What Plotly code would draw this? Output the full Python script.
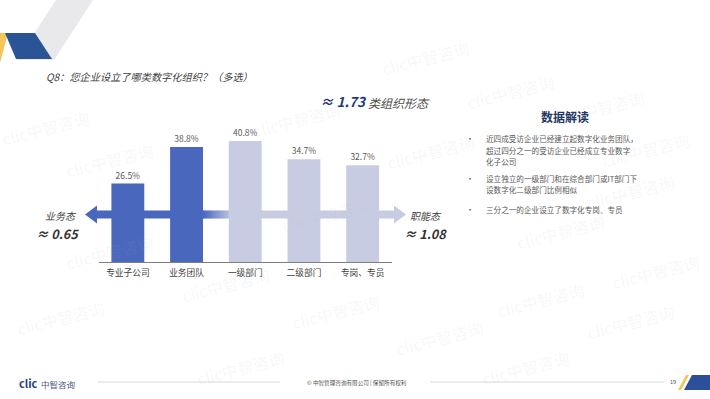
import plotly.graph_objects as go

W, H = 710, 399

categories = ["专业子公司", "业务团队", "一级部门", "二级部门", "专岗、专员"]
values = [26.5, 38.8, 40.8, 34.7, 32.7]
value_labels = ["26.5%", "38.8%", "40.8%", "34.7%", "32.7%"]
groups = ["业务态", "业务态", "职能态", "职能态", "职能态"]

title_text = "Q8：您企业设立了哪类数字化组织？（多选）"
total_text = "≈ 1.73"
total_suffix = "类组织形态"
left_label, left_value = "业务态", "≈ 0.65"
right_label, right_value = "职能态", "≈ 1.08"
panel_title = "数据解读"
bullets = [
    ["近四成受访企业已经建立起数字化业务团队，", "超过四分之一的受访企业已经成立专业数字", "化子公司"],
    ["设立独立的一级部门和在综合部门或IT部门下", "设数字化二级部门比例相似"],
    ["三分之一的企业设立了数字化专岗、专员"],
]
footer_text = "© 中智管理咨询有限公司 | 保留所有权利"
page_no = "19"

DARK = "#4a67be"
LIGHT = "#c8cce2"
FONT = "Noto Sans CJK SC, Noto Sans, sans-serif"

def px(x):
    return x / W

def py(y):
    return 1 - y / H

bar_colors = [DARK if g == "业务态" else LIGHT for g in groups]

fig = go.Figure()
fig.add_trace(go.Bar(
    x=categories, y=values, width=0.56,
    marker=dict(color=bar_colors, line=dict(width=0)),
    text=value_labels, textposition="outside",
    textfont=dict(size=8.5, color="#595959", family=FONT),
    cliponaxis=False, hoverinfo="skip",
))

shapes = []

def poly(points, color, layer="below"):
    d = "M " + " L ".join(f"{px(x):.5f},{py(y):.5f}" for x, y in points) + " Z"
    return dict(type="path", xref="paper", yref="paper", path=d,
                fillcolor=color, line=dict(width=0), layer=layer)

def hexc(c):
    c = c.lstrip("#")
    return tuple(int(c[i:i + 2], 16) for i in (0, 2, 4))

# arrow
cy = 214.5
shapes.append(poly([(95, cy - 4), (204, cy - 4), (204, cy + 4), (95, cy + 4)], DARK))
shapes.append(poly([(85, cy), (97, cy - 9), (97, cy + 9)], DARK))
c1, c2 = hexc(DARK), hexc(LIGHT)
n = 16
x0, x1 = 203, 233
for i in range(n):
    t = (i + 0.5) / n
    col = "rgb(%d,%d,%d)" % tuple(round(c1[k] + (c2[k] - c1[k]) * t) for k in range(3))
    xa = x0 + (x1 - x0) * i / n
    xb = x0 + (x1 - x0) * (i + 1) / n + 0.6
    shapes.append(poly([(xa, cy - 4), (xb, cy - 4), (xb, cy + 4), (xa, cy + 4)], col))
shapes.append(poly([(233, cy - 4), (396, cy - 4), (396, cy + 4), (233, cy + 4)], LIGHT))
shapes.append(poly([(406, cy), (394, cy - 9), (394, cy + 9)], LIGHT))

# top-left decoration
shapes.append(poly([(56, 0), (93, 0), (54, 60), (17, 60)], "#e9e9ec", "above"))
shapes.append(poly([(0, 33), (8, 33), (0, 63)], "#f6c55a", "above"))
shapes.append(poly([(5, 33), (35, 33), (52, 59), (16, 59)], "#2b5496", "above"))

# bottom-right decoration
shapes.append(poly([(686, 375), (689, 375), (681, 390), (678, 390)], "#f6c55a", "above"))
shapes.append(poly([(692, 375), (710, 375), (710, 390), (684, 390)], "#2b4f9a", "above"))

# footer lines
for xa, xb in [(98, 280), (430, 664)]:
    shapes.append(dict(type="line", xref="paper", yref="paper",
                       x0=px(xa), x1=px(xb), y0=py(382), y1=py(382),
                       line=dict(color="#cfcfcf", width=0.8)))

ann = []

def text(x, y, s, size, color, xanchor="left", bold=False, italic=False, angle=0):
    if bold:
        s = "<b>" + s + "</b>"
    ann.append(dict(x=px(x), y=py(y), xref="paper", yref="paper", text=s,
                    showarrow=False, xanchor=xanchor, yanchor="middle",
                    textangle=angle, borderpad=0,
                    font=dict(size=size, color=color, family=FONT,
                              style="italic" if italic else "normal")))

# watermarks
wm_pos = [(425, 58), (510, 92), (45, 128), (110, 160), (296, 120), (430, 152),
          (325, 215), (110, 252), (600, 108), (645, 150), (630, 192), (560, 232),
          (60, 318), (225, 285), (335, 312), (440, 338), (540, 300), (630, 322),
          (655, 272), (240, 368), (525, 368)]
for x, y in wm_pos:
    text(x, y, "clic中智咨询", 16, "rgba(170,175,195,0.10)", "center", angle=-14)

text(45, 76, title_text, 10.2, "#404040", italic=True)
text(368, 101, total_text, 13.5, "#1f3b7a", "right", bold=True, italic=True)
text(367, 102, total_suffix, 12, "#505050", italic=True)
text(78, 215, left_label, 10, "#404040", "right", italic=True)
text(80, 233, left_value, 12.5, "#333333", "right", bold=True, italic=True)
text(409, 215, right_label, 10, "#404040", italic=True)
text(403, 233, right_value, 12.5, "#333333", bold=True, italic=True)
text(565, 117, panel_title, 12, "#1f3864", "center", bold=True)

ys = [[138, 150, 161.5], [178, 189.5], [209]]
for lines, yl in zip(bullets, ys):
    text(470, yl[0], "•", 8, "#555555", "center")
    for s, y in zip(lines, yl):
        text(485, y, s, 7.6, "#595959")

text(18, 383, "<b>clic</b>", 11, "#1d3f8a")
text(40, 383.5, "中智咨询", 8.5, "#4a5a80")
text(357, 382.5, footer_text, 5.6, "#555555", "center")
text(673, 382, page_no, 5.6, "#555555", "center")

fig.update_layout(
    width=W, height=H, margin=dict(l=0, r=0, t=0, b=0),
    paper_bgcolor="white", plot_bgcolor="rgba(0,0,0,0)",
    showlegend=False, shapes=shapes, annotations=ann,
    font=dict(family=FONT),
    xaxis=dict(domain=[px(98.5), px(392)], range=[-0.5, 4.5], showline=True,
               linecolor="#7f7f7f", linewidth=1, ticks="", showgrid=False,
               zeroline=False, fixedrange=True, ticklabelstandoff=2,
               tickfont=dict(size=8.7, color="#404040", family=FONT)),
    yaxis=dict(domain=[py(262.3), py(128.65)], range=[0, 45], visible=False,
               showgrid=False, zeroline=False, fixedrange=True),
)

fig.write_html("out.html", config={"displayModeBar": False},
               post_script="document.body.style.margin='0';document.body.style.padding='0';")
